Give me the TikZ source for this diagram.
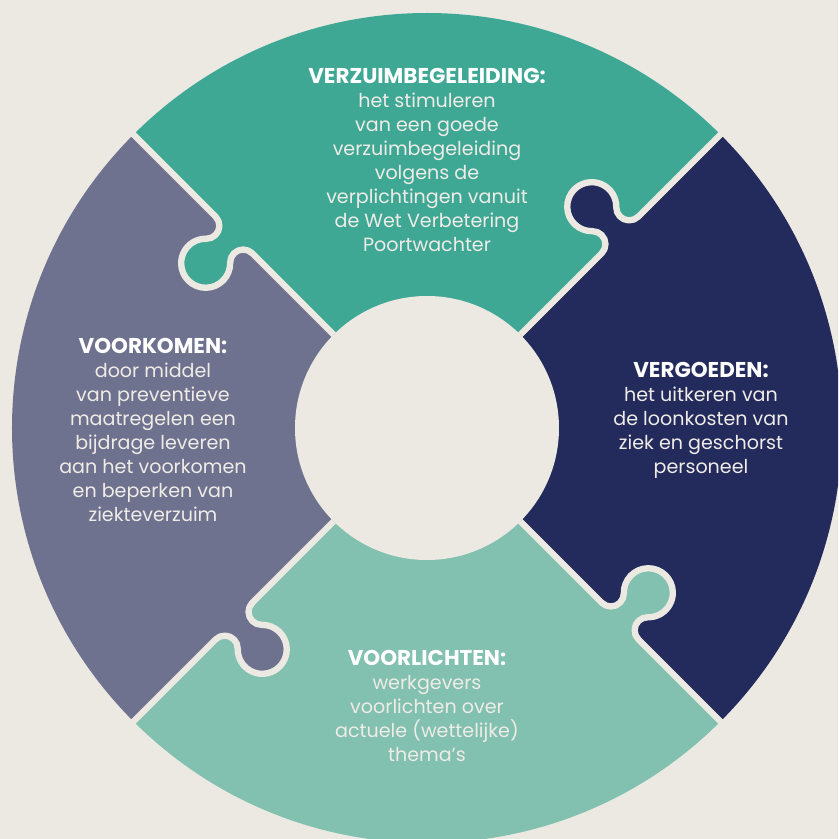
\documentclass[tikz,border=0pt]{standalone}
\usepackage{fontspec}
\setmainfont{Poppins}
\definecolor{bgcol}{HTML}{ECE9E3}
\definecolor{verzuim}{HTML}{3FA895}
\definecolor{vergoed}{HTML}{232A5C}
\definecolor{voorlicht}{HTML}{82C0B0}
\definecolor{voorkom}{HTML}{6F728E}
\definecolor{bodytext}{HTML}{EFECE7}
\tikzstyle{piecetext}=[align=center,text=bodytext,inner sep=0pt,font=\fontsize{16.3}{20.5}\selectfont]
\tikzstyle{seam}=[draw=bgcol,line width=0.19cm,line join=round]
\newcommand{\kop}[1]{{\fontsize{18.3}{20.5}\selectfont\bfseries\color{white}#1}}
\newcommand{\knobpath}{(247,0) arc[start angle=-90,end angle=46.1,radius=13] arc[start angle=226.1,end angle=-46.1,radius=24.5] arc[start angle=133.9,end angle=270,radius=13]}
\begin{document}
\begin{tikzpicture}[x=0.03cm,y=0.03cm]
\useasboundingbox (-427,-411) rectangle (411,428);
\fill[bgcol] (-427,-411) rectangle (411,428);
\begin{scope}
\clip (-427,-411) rectangle (411,428);
% the four pieces
\fill[verzuim] (0,0) -- (45:415) arc[start angle=45,end angle=135,radius=415] -- cycle;
\fill[voorkom] (0,0) -- (135:415) arc[start angle=135,end angle=225,radius=415] -- cycle;
\fill[voorlicht] (0,0) -- (225:415) arc[start angle=225,end angle=315,radius=415] -- cycle;
\fill[vergoed] (0,0) -- (315:415) arc[start angle=315,end angle=405,radius=415] -- cycle;
% knobs
\begin{scope}[rotate=45]
\fill[vergoed] \knobpath -- (299,-5) -- (247,-5) -- cycle;
\draw[seam] (132,0) -- \knobpath -- (430,0);
\end{scope}
\begin{scope}[rotate=135]
\fill[verzuim] \knobpath -- (299,-5) -- (247,-5) -- cycle;
\draw[seam] (132,0) -- \knobpath -- (430,0);
\end{scope}
\begin{scope}[rotate=225]
\fill[voorkom] \knobpath -- (299,-5) -- (247,-5) -- cycle;
\draw[seam] (132,0) -- \knobpath -- (430,0);
\end{scope}
\begin{scope}[rotate=315]
\fill[voorlicht] \knobpath -- (299,-5) -- (247,-5) -- cycle;
\draw[seam] (132,0) -- \knobpath -- (430,0);
\end{scope}
\fill[bgcol] (0,0) circle[radius=132];
\end{scope}
% texts
\node(verzuimtext)[piecetext] at (0,268) {\kop{VERZUIMBEGELEIDING:}\\het stimuleren\\van een goede\\verzuimbegeleiding\\volgens de\\verplichtingen vanuit\\de Wet Verbetering\\Poortwachter};
\node(voorkomtext)[piecetext] at (-274,-2) {\kop{VOORKOMEN:}\\door middel\\van preventieve\\maatregelen een\\bijdrage leveren\\aan het voorkomen\\en beperken van\\ziekteverzuim};
\node(vergoedtext)[piecetext] at (274,8) {\kop{VERGOEDEN:}\\het uitkeren van\\de loonkosten van\\ziek en geschorst\\personeel};
\node(voorlichttext)[piecetext] at (0,-278) {\kop{VOORLICHTEN:}\\werkgevers\\voorlichten over\\actuele (wettelijke)\\thema’s};
\end{tikzpicture}
\end{document}
